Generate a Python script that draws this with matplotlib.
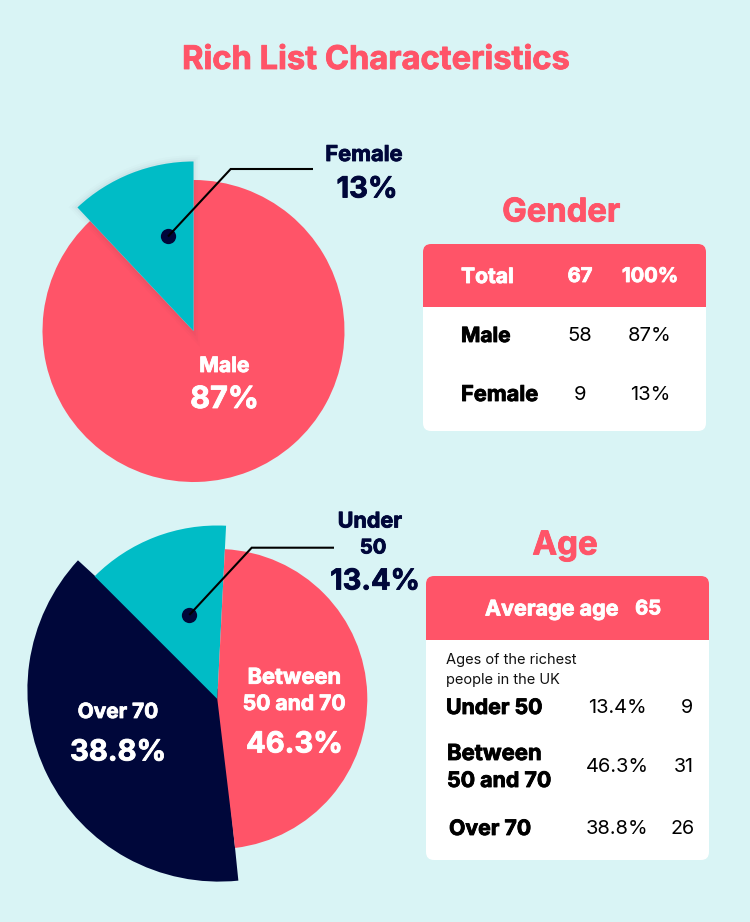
import matplotlib
matplotlib.use("Agg")
import matplotlib.pyplot as plt
import matplotlib.patheffects as pe
from matplotlib.patches import FancyBboxPatch, Rectangle

plt.rcParams['font.family'] = ['Inter', 'DejaVu Sans']

# the teal wedge in the picture is narrower than its 13% label, so the drawn share is kept apart
gender_labels = ["Male", "Female"]
gender_counts = [58, 9]
gender_pct = ["87%", "13%"]
gender_drawn = [12, 88]  # Female, Male

age_labels = ["Under 50", "Between\n50 and 70", "Over 70"]
age_pct = [13.4, 46.3, 38.8]
age_counts = [9, 31, 26]
average_age = 65
total_people = 67

BG = "#D9F4F5"
PINK = "#FF5468"
TEAL = "#00BCC6"
NAVY = "#00073A"
W, H = 750, 922


def py(y):
    # picture rows run downward, the axes run upward
    return H - y


def label(x, y, s, size, color, weight="bold", ha="center"):
    t = ax.text(x, py(y + 2), s, fontsize=size, color=color, fontweight=weight,
                ha=ha, va="center", zorder=8)
    if weight == "bold":
        # the reference type is heavier than Inter bold
        t.set_path_effects([pe.withStroke(linewidth=0.6, foreground=color)])
    return t


def card(x0, y0, x1, y1, head_bottom):
    box = FancyBboxPatch((x0 + 7, py(y1) + 7), x1 - x0 - 14, y1 - y0 - 14,
                         boxstyle="round,pad=7,rounding_size=8", fc="white", ec="none", zorder=2)
    ax.add_patch(box)
    head = Rectangle((x0, py(head_bottom)), x1 - x0, head_bottom - y0, fc=PINK, ec="none", zorder=3)
    ax.add_patch(head)
    head.set_clip_path(box)


def leader(points):
    xs = [p[0] for p in points]
    ys = [py(p[1]) for p in points]
    ax.plot(xs, ys, color="black", lw=1.5, zorder=6, solid_capstyle="butt", solid_joinstyle="miter")
    ax.plot(xs[0], ys[0], "o", ms=11, color=NAVY, mec="none", zorder=5)


fig = plt.figure(figsize=(W / 100, H / 100), dpi=100, facecolor=BG)
ax = fig.add_axes([0, 0, 1, 1])

label(376, 58.5, "Rich List Characteristics", 23.5, PINK)

# gender pie
wedges, _ = ax.pie(gender_drawn, colors=[TEAL, PINK], startangle=133.2, counterclock=False,
                   radius=151, center=(193.5, py(331)), frame=True)
wedges[0].set_radius(169.5)
wedges[0].set_zorder(3)
wedges[1].set_zorder(2)
wedges[0].set_path_effects([
    pe.Stroke(linewidth=9, foreground="#30405a", alpha=0.015),
    pe.Stroke(linewidth=6, foreground="#30405a", alpha=0.025),
    pe.Stroke(linewidth=3, foreground="#30405a", alpha=0.04),
    pe.Normal(),
])
leader([(168, 236.5), (230.7, 169), (313, 169)])
label(364, 153, gender_labels[1], 15.7, NAVY)
label(367, 188, gender_pct[1], 21, NAVY)
label(224.5, 364, gender_labels[0], 15.2, "white")
label(224.5, 398, gender_pct[0], 22, "white")

# age pie, the navy slice is a larger circle set slightly off the others
wedges, _ = ax.pie(age_pct, colors=[TEAL, PINK, NAVY], startangle=135, counterclock=False,
                   radius=150, center=(217.3, py(699)), frame=True)
wedges[0].set_radius(173.5)
wedges[0].set_theta1(87.1)
wedges[1].set_theta2(87.1)
wedges[0].set_zorder(3)
wedges[1].set_zorder(3)
wedges[2].set_zorder(2)
wedges[2].set_center((219, py(690)))
wedges[2].set_radius(191.6)
wedges[2].set_theta1(137.4)
wedges[2].set_theta2(275.8)
leader([(189.3, 615), (251.7, 547.7), (334, 547.7)])
label(370, 519.5, "Under", 15.5, NAVY)
label(373, 546.5, "50", 14.5, NAVY)
label(375, 580, f"{age_pct[0]}%", 20.8, NAVY)
label(294.3, 675.7, "Between", 15.7, "white")
label(294.3, 702, "50 and 70", 15.2, "white")
label(294.3, 743, f"{age_pct[1]}%", 21, "white")
label(118, 710, age_labels[2], 15, "white")
label(118, 751, f"{age_pct[2]}%", 21, "white")

# gender table
label(561, 211, "Gender", 23.6, PINK)
card(423, 244, 706, 431, 307)
label(461, 275, "Total", 15.2, "white", ha="left")
label(580, 275, str(total_people), 14.5, "white")
label(650, 275, "100%", 14.5, "white")
for y, name, n, pct, size in zip([334, 393], gender_labels, gender_counts, gender_pct, [15, 15.7]):
    label(461, y, name, size, "black", ha="left")
    label(580, y, str(n), 14.5, "black", weight="normal")
    label(650, y, pct, 14.5, "black", weight="normal")

# age table
label(565, 544, "Age", 23.8, PINK)
card(426, 576, 709, 860, 640)
label(485, 607.5, "Average age", 15.5, "white", ha="left")
label(648, 607.5, str(average_age), 14.5, "white")
label(446.5, 658, "Ages of the richest", 10.5, "#111111", weight="normal", ha="left")
label(446.5, 678, "people in the UK", 10.5, "#111111", weight="normal", ha="left")
row_y = [706, 765, 827]
row_x = [446, 447, 449]
count_x = [687, 684, 683]
for i in range(3):
    if "\n" in age_labels[i]:
        top, bottom = age_labels[i].split("\n")
        label(row_x[i], 752, top, 15.9, "black", ha="left")
        label(row_x[i], 779, bottom, 15.4, "black", ha="left")
    else:
        label(row_x[i], row_y[i], age_labels[i], 15.3, "black", ha="left")
    label(617, row_y[i], f"{age_pct[i]}%", 14.4, "black", weight="normal")
    label(count_x[i], row_y[i], str(age_counts[i]), 14.2, "black", weight="normal")

ax.set_xlim(0, W)
ax.set_ylim(0, H)
ax.set_aspect("equal")
ax.axis("off")
fig.savefig("out.png", dpi=100, facecolor=BG)
